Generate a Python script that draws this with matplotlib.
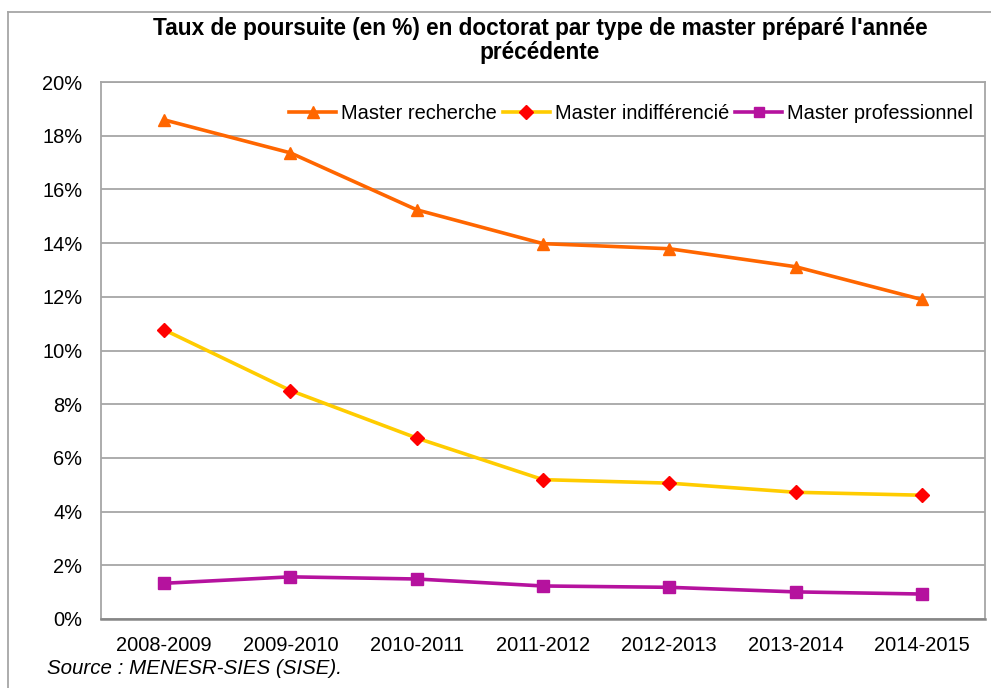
import matplotlib
matplotlib.use("Agg")
import matplotlib.pyplot as plt
from matplotlib.lines import Line2D
from matplotlib.ticker import FuncFormatter

plt.rcParams['font.family'] = ['Liberation Sans', 'DejaVu Sans']

# Données
annees = ["2008-2009", "2009-2010", "2010-2011", "2011-2012",
          "2012-2013", "2013-2014", "2014-2015"]
recherche = [18.59, 17.36, 15.24, 13.98, 13.79, 13.12, 11.90]
indifferencie = [10.77, 8.51, 6.74, 5.19, 5.06, 4.72, 4.61]
professionnel = [1.33, 1.57, 1.49, 1.23, 1.18, 1.01, 0.93]

W, H = 991, 688
fig = plt.figure(figsize=(W / 100, H / 100), dpi=100)
ax = fig.add_axes([101 / W, 1 - 619 / H, 884 / W, (619 - 82) / H])

x = range(len(annees))
ax.plot(x, recherche, color='#FF6600', lw=2.6, marker='^', ms=9,
        mfc='#FF6600', mec='#FF6600', label='Master recherche', zorder=3)
ax.plot(x, indifferencie, color='#FFCC00', lw=2.6, marker='D', ms=7.5,
        mfc='#FF0000', mec='#FF0000', label='Master indifférencié', zorder=3)
ax.plot(x, professionnel, color='#B5129E', lw=2.6, marker='s', ms=8.5,
        mfc='#B5129E', mec='#B5129E', label='Master professionnel', zorder=3)

ax.set_xlim(-0.5, len(annees) - 0.5)
ax.set_ylim(0, 20)
ax.set_yticks(range(0, 21, 2))
ax.yaxis.set_major_formatter(FuncFormatter(lambda v, p: f"{int(v)}%"))
ax.set_xticks(list(x))
ax.set_xticklabels(annees)
ax.tick_params(axis='both', length=0, labelsize=14.4, colors='black')
ax.tick_params(axis='y', pad=13.5)
ax.tick_params(axis='x', pad=12)

ax.grid(axis='y', color='#A6A6A6', lw=1.3)
ax.set_axisbelow(True)
for s in ax.spines.values():
    s.set_color('#A6A6A6')
    s.set_linewidth(1.3)
ax.spines['bottom'].set_color('#868686')
ax.spines['bottom'].set_linewidth(1.8)

ax.legend(loc='upper right', ncol=3, frameon=False, fontsize=14.4,
          handlelength=2.35, handletextpad=0.25, columnspacing=0.3,
          borderaxespad=0.2, markerscale=0.9, bbox_to_anchor=(1.0, 0.982))

fig.text(540 / W, 1 - 28 / H,
         "Taux de poursuite (en %) en doctorat par type de master préparé l'année",
         ha='center', va='center', fontsize=16.3, fontweight='bold')
fig.text(540 / W, 1 - 53 / H, "précédente",
         ha='center', va='center', fontsize=16.3, fontweight='bold')
fig.text(47 / W, 1 - 668 / H, "Source : MENESR-SIES (SISE).",
         ha='left', va='center', fontsize=14.8, style='italic')

# cadre extérieur
fig.add_artist(Line2D([8 / W, 8 / W], [0, 1 - 12 / H], color='#A6A6A6', lw=1.3))
fig.add_artist(Line2D([8 / W, 1], [1 - 12 / H, 1 - 12 / H], color='#A6A6A6', lw=1.3))

fig.savefig("out.png", dpi=100)
